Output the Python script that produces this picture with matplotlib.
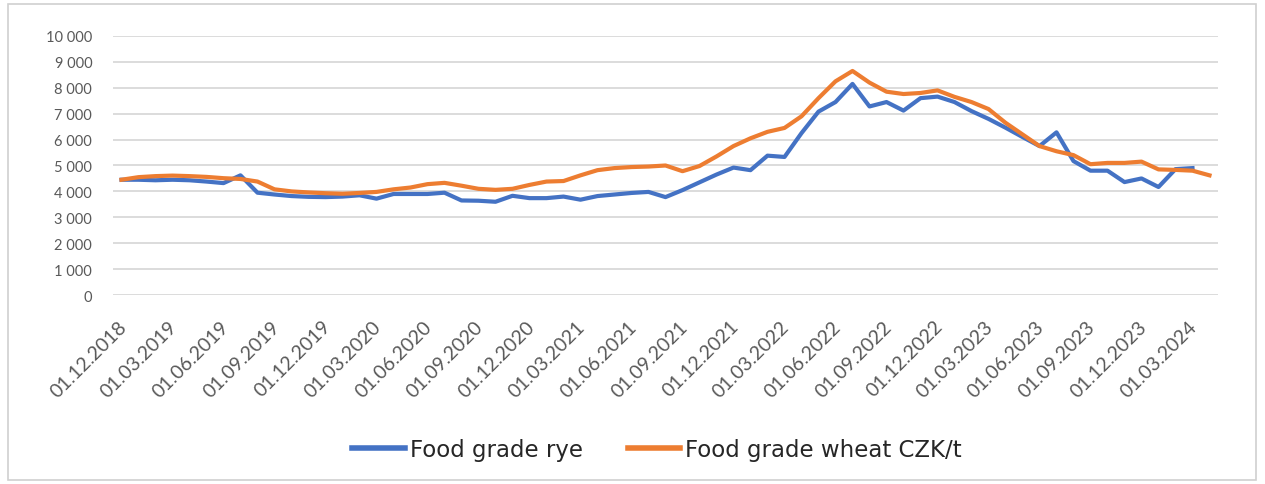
import numpy as np
import matplotlib
matplotlib.use("Agg")
import matplotlib.pyplot as plt
import matplotlib.transforms as mtransforms
from matplotlib import font_manager
from matplotlib.patches import Rectangle

# ---- data ----
months = [f"01.{m:02d}.{y}" for y in range(2018, 2025) for m in range(1, 13)]
months = months[months.index("01.12.2018"):months.index("01.04.2024") + 1]

rye = [4450, 4450, 4430, 4450, 4430, 4380, 4320, 4620, 3950, 3880,
       3820, 3790, 3780, 3800, 3850, 3720, 3900, 3900, 3900, 3950,
       3650, 3640, 3600, 3830, 3740, 3740, 3800, 3680, 3820, 3880,
       3940, 3980, 3780, 4050, 4350, 4650, 4920, 4820, 5380, 5330,
       6250, 7080, 7450, 8150, 7280, 7450, 7120, 7600, 7660, 7450,
       7100, 6800, 6460, 6100, 5750, 6280, 5170, 4800, 4800, 4360,
       4500, 4170, 4860, 4900, np.nan]

wheat = [4450, 4550, 4590, 4610, 4590, 4560, 4510, 4480, 4380, 4080,
         4000, 3960, 3930, 3910, 3940, 3980, 4080, 4150, 4280, 4330,
         4220, 4100, 4060, 4100, 4250, 4380, 4400, 4620, 4820, 4900,
         4940, 4960, 5000, 4780, 4980, 5350, 5750, 6050, 6300, 6450,
         6900, 7600, 8250, 8650, 8200, 7850, 7760, 7800, 7900, 7650,
         7450, 7180, 6650, 6200, 5750, 5550, 5400, 5050, 5100, 5100,
         5150, 4850, 4830, 4800, 4620]

yticks = list(range(0, 10001, 1000))
ytick_labels = [f"{v:,}".replace(",", " ") for v in yticks]
series_names = ["Food grade rye", "Food grade wheat CZK/t"]


def has_font(name):
    try:
        font_manager.findfont(font_manager.FontProperties(family=name), fallback_to_default=False)
        return True
    except Exception:
        return False


narrow = has_font("Liberation Sans Narrow")
yfont = ["Liberation Sans Narrow", "DejaVu Sans"] if narrow else ["Lato", "DejaVu Sans"]
ysize = 11.5 if narrow else 10.5

# ---- figure ----
W, H = 1265, 485
fig = plt.figure(figsize=(W / 100, H / 100), dpi=100)
fig.patch.set_facecolor("white")
fig.patches.append(Rectangle((8 / W, 4 / H), 1248 / W, 476 / H, transform=fig.transFigure,
                             fill=False, edgecolor="#d0d0d0", lw=1.2))

ax = fig.add_axes([113 / W, (H - 296) / H, 1105 / W, 259 / H])
x = np.arange(len(months))
ax.plot(x, rye, color="#4472C4", lw=3.0, label=series_names[0], solid_joinstyle="round")
ax.plot(x, wheat, color="#ED7D31", lw=3.0, label=series_names[1], solid_joinstyle="round")

ax.set_xlim(-0.5, len(months) - 0.5)
ax.set_ylim(0, 10000)
ax.set_yticks(yticks)
ax.set_yticklabels(ytick_labels)
ax.yaxis.grid(True, color="#d9d9d9", lw=1.3)
ax.set_axisbelow(True)
for s in ax.spines.values():
    s.set_visible(False)
ax.tick_params(axis="both", length=0, labelcolor="#595959")
ax.tick_params(axis="y", pad=15, labelsize=ysize)
for lbl in ax.get_yticklabels():
    lbl.set_fontfamily(yfont)

xt = x[::3][:22]
ax.set_xticks(xt)
ax.set_xticklabels([months[i] for i in xt], rotation=45, ha="right", va="top",
                   rotation_mode="anchor", fontsize=14)
ax.tick_params(axis="x", pad=16)
off = mtransforms.ScaledTranslation(-4 / 100, 0, fig.dpi_scale_trans)
for lbl in ax.get_xticklabels():
    lbl.set_transform(lbl.get_transform() + off)
    lbl.set_fontfamily(["Lato", "DejaVu Sans"])

leg = fig.legend(loc="center", bbox_to_anchor=(657 / W, 1 - 451 / H), ncol=2, frameon=False,
                 handlelength=2.3, handletextpad=0.22, columnspacing=1.95,
                 prop={"family": ["DejaVu Sans"], "size": 16.5})
for t in leg.get_texts():
    t.set_color("#262626")
for h in leg.legend_handles:
    h.set_linewidth(4)

fig.savefig("out.png", dpi=100, facecolor="white")
